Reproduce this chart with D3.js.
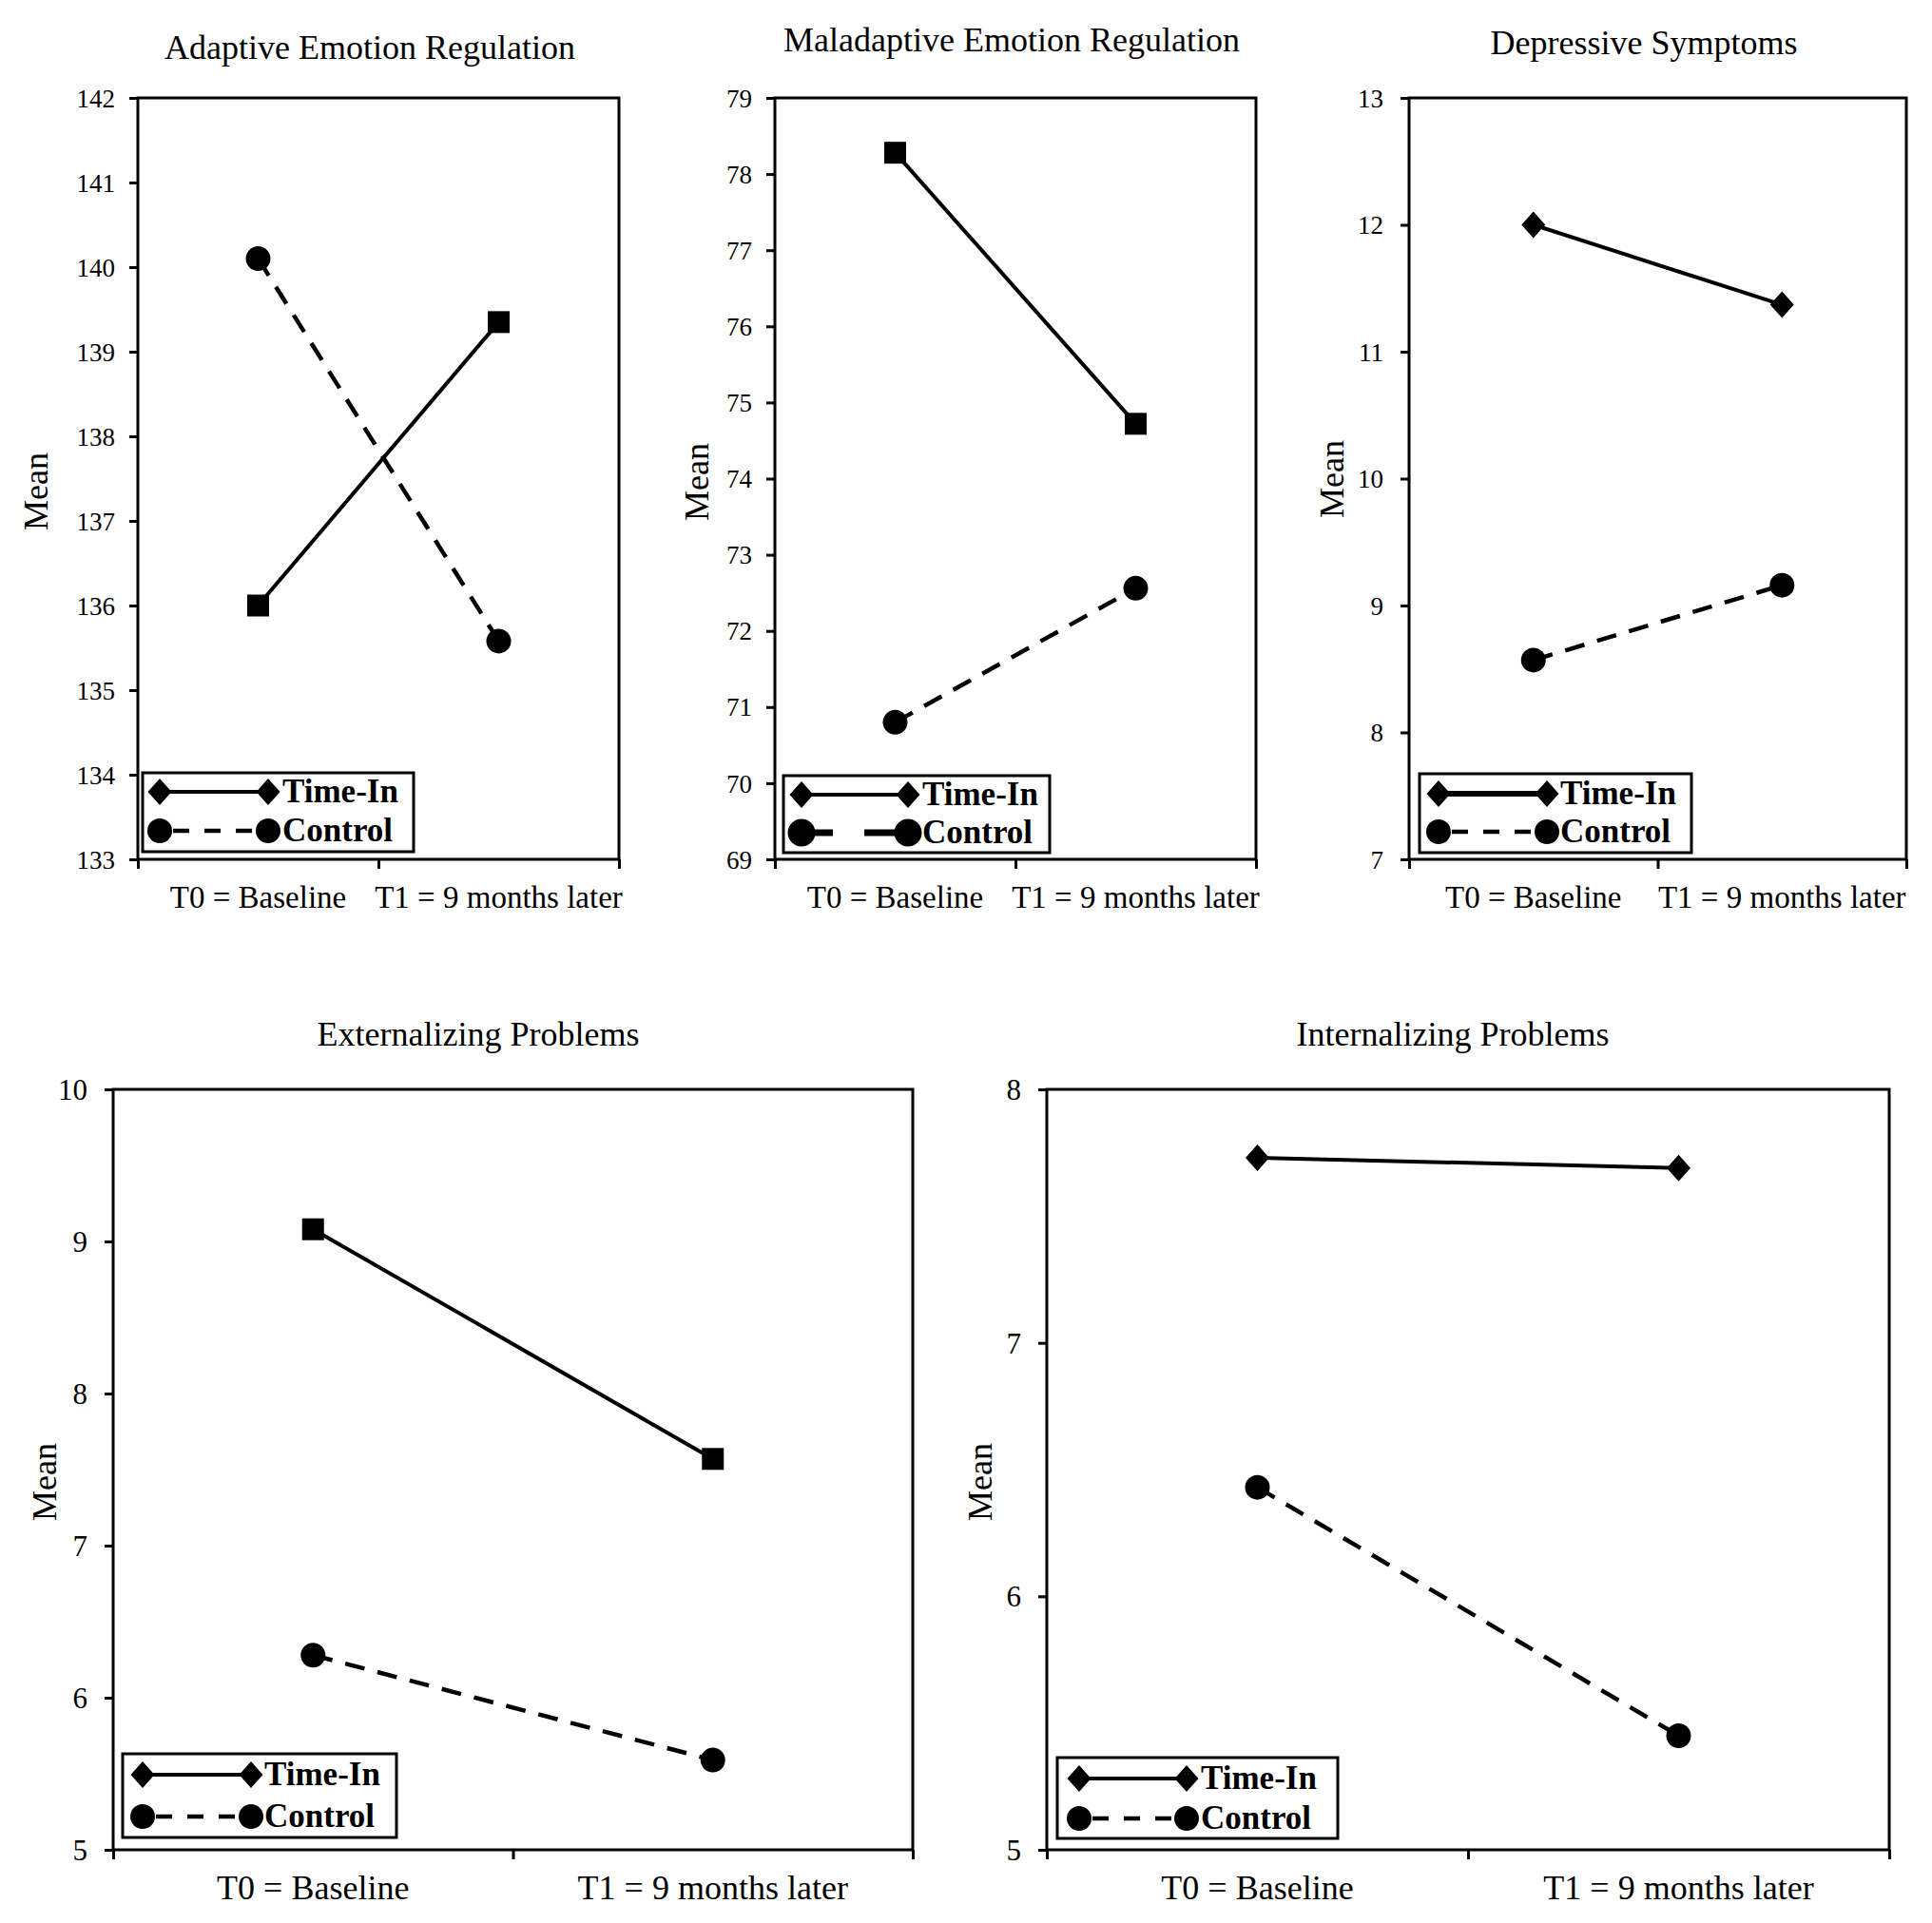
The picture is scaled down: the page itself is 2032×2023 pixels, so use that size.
<!DOCTYPE html>
<html><head><meta charset="utf-8">
<script src="https://cdn.jsdelivr.net/npm/d3@7"></script>
<style>
body{margin:0;background:#fff}
svg{display:block}
text{font-family:"Liberation Serif","Times New Roman",serif;fill:#000}
</style>
</head><body><svg id="c" width="2032" height="2023"></svg>
<script>
// ---- data ----
const categories = ["T0 = Baseline", "T1 = 9 months later"];
const seriesNames = ["Time-In", "Control"];
const panelTitles = ["Adaptive Emotion Regulation", "Maladaptive Emotion Regulation", "Depressive Symptoms", "Externalizing Problems", "Internalizing Problems"];
const timeInValues = [[136.0, 139.35], [78.28, 74.72], [12.0, 11.37], [9.08, 7.57], [7.73, 7.69]];
const controlValues = [[140.1, 135.58], [70.8, 72.56], [8.57, 9.16], [6.28, 5.59], [6.43, 5.45]];
const yDomains = [[133, 142], [69, 79], [7, 13], [5, 10], [5, 8]];
const yTickValues = [
  [133, 134, 135, 136, 137, 138, 139, 140, 141, 142],
  [69, 70, 71, 72, 73, 74, 75, 76, 77, 78, 79],
  [7, 8, 9, 10, 11, 12, 13],
  [5, 6, 7, 8, 9, 10],
  [5, 6, 7, 8]
];
const yAxisLabel = "Mean";
const timeInMarker = ["square", "square", "diamond", "square", "diamond"];

// ---- layout (positions / styles) ----
const layout = [
  {l:145, r:651, t:103, b:904, title:[389,62], mean:[38,517], tickFs:27, tickGap:24, xFs:33, xBase:955,
   leg:{x:150,y:813,w:285,h:83,r1:20,r2:61,m1:18,m2:132,tx:147}},
  {l:815, r:1321, t:103, b:904, title:[1064,54], mean:[733,507], tickFs:27, tickGap:24, xFs:33, xBase:955,
   leg:{x:824,y:816,w:280,h:81,r1:20,r2:60,m1:19,m2:131,tx:146}, ctrlLeg:{sw:7, dash:"33,33,200", r:14.5}},
  {l:1482, r:2005, t:103, b:904, title:[1729,57], mean:[1401,504], tickFs:27, tickGap:27, xFs:33, xBase:955,
   leg:{x:1493,y:814,w:286,h:83,r1:21,r2:61,m1:20,m2:134,tx:148}, tiLegSw:6},
  {l:119, r:960, t:1146, b:1946, title:[503,1100], mean:[47,1559], tickFs:31, tickGap:27, xFs:36, xBase:1998,
   leg:{x:129,y:1845,w:288,h:88,r1:22,r2:66,m1:21,m2:135,tx:149}},
  {l:1101, r:1987, t:1146, b:1946, title:[1528,1100], mean:[1031,1559], tickFs:31, tickGap:27, xFs:36, xBase:1998,
   leg:{x:1112,y:1849,w:295,h:85,r1:22,r2:64,m1:23,m2:136,tx:151}}
];

const diamondType = {
  draw(ctx, size) {
    const r = Math.sqrt(size) / 2;
    ctx.moveTo(0, -r * 1.12); ctx.lineTo(r, 0); ctx.lineTo(0, r * 1.12); ctx.lineTo(-r, 0); ctx.closePath();
  }
};
function markerPath(kind) {
  if (kind === "square") return d3.symbol().type(d3.symbolSquare).size(23 * 23)();
  if (kind === "diamond") return d3.symbol().type(diamondType).size(25 * 25)();
  return null;
}

const svg = d3.select("#c");
svg.append("rect").attr("width", 2032).attr("height", 2023).attr("fill", "#fff");

panelTitles.forEach((title, i) => {
  const L = layout[i];
  const g = svg.append("g");
  const y = d3.scaleLinear().domain(yDomains[i]).range([L.b, L.t]);
  const x = d3.scaleBand().domain(categories).range([L.l, L.r]).padding(0);
  const xb = d3.scaleLinear().domain([0, categories.length]).range([L.l, L.r]);
  const cx = c => x(c) + x.bandwidth() / 2;

  // y axis
  const ya = g.append("g").attr("transform", `translate(${L.l},0)`)
    .call(d3.axisLeft(y).tickValues(yTickValues[i]).tickSize(9).tickSizeOuter(0).tickPadding(L.tickGap - 9).tickFormat(d3.format("d")));
  ya.select(".domain").remove();
  ya.selectAll(".tick line").attr("stroke", "#000").attr("stroke-width", 3);
  ya.selectAll(".tick text").attr("font-family", "Liberation Serif, Times New Roman, serif").attr("font-size", L.tickFs).attr("fill", "#000").attr("dy", "0.34em");

  // x axis ticks at category boundaries
  const xa = g.append("g").attr("transform", `translate(0,${L.b})`)
    .call(d3.axisBottom(xb).tickValues(d3.range(categories.length + 1)).tickSize(10).tickSizeOuter(0).tickFormat(""));
  xa.select(".domain").remove();
  xa.selectAll(".tick line").attr("stroke", "#000").attr("stroke-width", 3);

  // x labels
  g.selectAll(".xl").data(categories).enter().append("text")
    .attr("x", d => cx(d)).attr("y", L.xBase).attr("text-anchor", "middle")
    .attr("font-size", L.xFs).text(d => d);

  // frame
  g.append("rect").attr("x", L.l).attr("y", L.t).attr("width", L.r - L.l).attr("height", L.b - L.t)
    .attr("fill", "none").attr("stroke", "#000").attr("stroke-width", 3);

  // title
  g.append("text").attr("x", L.title[0]).attr("y", L.title[1]).attr("text-anchor", "middle")
    .attr("font-size", 36).text(title);

  // y label
  g.append("text").attr("transform", `translate(${L.mean[0]},${L.mean[1]}) rotate(-90)`)
    .attr("text-anchor", "middle").attr("dy", "0.33em").attr("font-size", 36).text(yAxisLabel);

  // series
  const line = d3.line().x((d, k) => cx(categories[k])).y(d => y(d));
  g.append("path").datum(controlValues[i]).attr("d", line).attr("fill", "none")
    .attr("stroke", "#000").attr("stroke-width", 4.5).attr("stroke-dasharray", "21,14");
  g.append("path").datum(timeInValues[i]).attr("d", line).attr("fill", "none")
    .attr("stroke", "#000").attr("stroke-width", 4);

  g.selectAll(".cm").data(controlValues[i]).enter().append("circle")
    .attr("cx", (d, k) => cx(categories[k])).attr("cy", d => y(d)).attr("r", 13).attr("fill", "#000");
  g.selectAll(".tm").data(timeInValues[i]).enter().append("path")
    .attr("d", markerPath(timeInMarker[i]))
    .attr("transform", (d, k) => `translate(${cx(categories[k])},${y(d)})`).attr("fill", "#000");

  // legend
  const lg = L.leg;
  const leg = g.append("g").attr("transform", `translate(${lg.x},${lg.y})`);
  leg.append("rect").attr("width", lg.w).attr("height", lg.h).attr("fill", "#fff")
    .attr("stroke", "#000").attr("stroke-width", 3);
  // Time-In row
  leg.append("line").attr("x1", lg.m1).attr("x2", lg.m2).attr("y1", lg.r1).attr("y2", lg.r1)
    .attr("stroke", "#000").attr("stroke-width", L.tiLegSw || 4);
  [lg.m1, lg.m2].forEach(mx => leg.append("path").attr("d", markerPath("diamond"))
    .attr("transform", `translate(${mx},${lg.r1})`).attr("fill", "#000"));
  leg.append("text").attr("x", lg.tx).attr("y", lg.r1 + 11).attr("font-size", 35).attr("font-weight", "bold").text(seriesNames[0]);
  // Control row
  const cl = L.ctrlLeg || {sw:4.5, dash:"17,16", r:13};
  leg.append("line").attr("x1", lg.m1).attr("x2", lg.m2).attr("y1", lg.r2).attr("y2", lg.r2)
    .attr("stroke", "#000").attr("stroke-width", cl.sw).attr("stroke-dasharray", cl.dash)
    .attr("stroke-dashoffset", L.ctrlLeg ? 0 : -14);
  [lg.m1, lg.m2].forEach(mx => leg.append("circle").attr("cx", mx).attr("cy", lg.r2).attr("r", cl.r).attr("fill", "#000"));
  leg.append("text").attr("x", lg.tx).attr("y", lg.r2 + 11).attr("font-size", 35).attr("font-weight", "bold").text(seriesNames[1]);
});
</script>
</body></html>
